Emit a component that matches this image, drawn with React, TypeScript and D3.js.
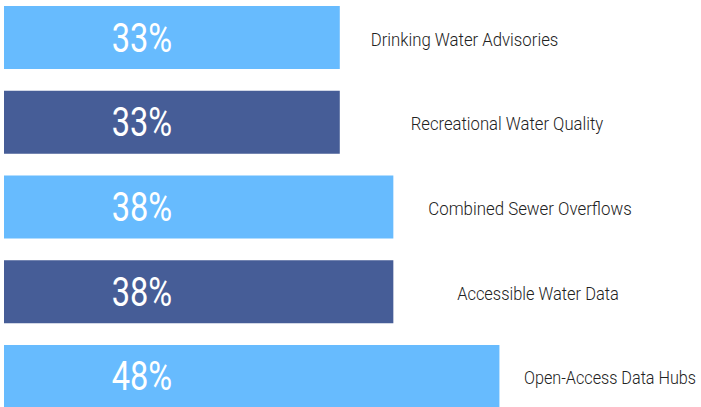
import React from "react";
import * as d3 from "d3";

const categories = [
  "Drinking Water Advisories",
  "Recreational Water Quality",
  "Combined Sewer Overflows",
  "Accessible Water Data",
  "Open-Access Data Hubs",
];
const values = [32.6, 32.6, 37.8, 37.8, 48.1];
const valueLabels = ["33%", "33%", "38%", "38%", "48%"];
const barGroups = ["light", "dark", "light", "dark", "light"];

// layout (not data)
const labelCenters = [464.5, 507, 530, 538, 610];
const labelWidths = [187.6, 192.6, 203.4, 161.7, 172];

const W = 701;
const H = 407;

export default function App() {
  const x = d3.scaleLinear().domain([0, 50]).range([4, 519]);
  const y = d3
    .scaleBand<string>()
    .domain(categories)
    .range([6, 408])
    .paddingInner(0.2566)
    .paddingOuter(0);
  const color = d3
    .scaleOrdinal<string, string>()
    .domain(["light", "dark"])
    .range(["#67bbfe", "#465d97"]);

  return (
    <svg
      width={W}
      height={H}
      style={{ position: "absolute", left: 0, top: 0, background: "#fff" }}
    >
      {categories.map((c, i) => {
        const y0 = y(c) as number;
        const bh = y.bandwidth();
        const cy = y0 + bh / 2;
        return (
          <g key={c}>
            <rect
              x={x(0)}
              y={y0}
              width={x(values[i]) - x(0)}
              height={bh}
              fill={color(barGroups[i])}
            />
            <text
              x={111.7}
              y={cy + 14}
              fill="#fff"
              fontFamily="Roboto, sans-serif"
              fontWeight={400}
              fontSize={40}
              textLength={60.5}
              lengthAdjust="spacingAndGlyphs"
            >
              {valueLabels[i]}
            </text>
            <text
              x={labelCenters[i] - labelWidths[i] / 2}
              y={cy + 8}
              fill="#222"
              fontFamily="Roboto, sans-serif"
              fontWeight={300}
              fontSize={18.5}
              textLength={labelWidths[i]}
              lengthAdjust="spacingAndGlyphs"
            >
              {c}
            </text>
          </g>
        );
      })}
    </svg>
  );
}
